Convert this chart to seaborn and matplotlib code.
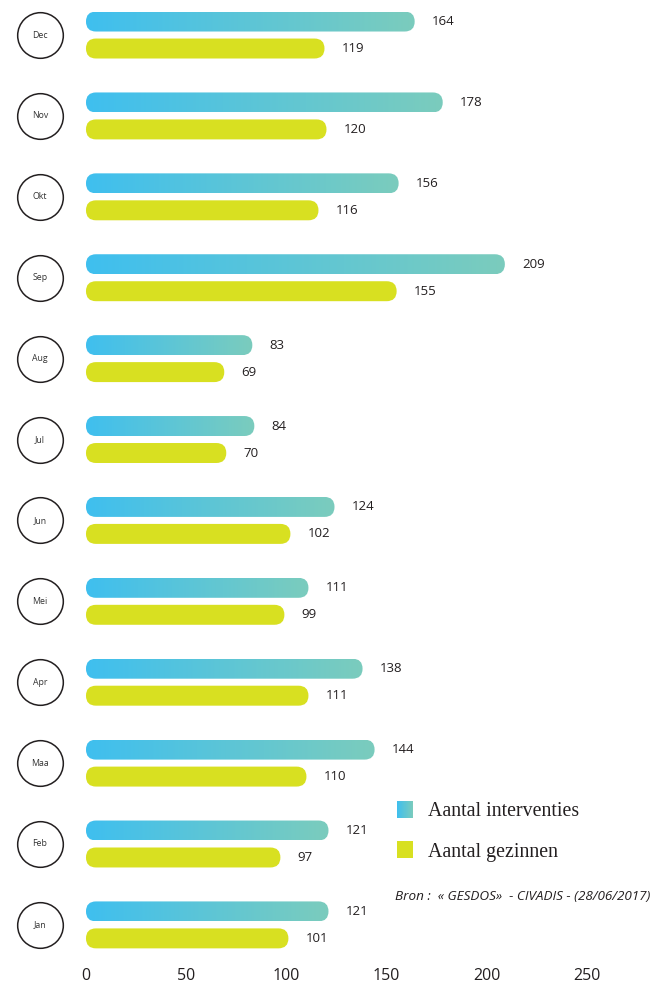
import seaborn as sns
import matplotlib.pyplot as plt
import matplotlib.colors as mcolors
from matplotlib.patches import FancyBboxPatch
import numpy as np
import pandas as pd

# Data (top to bottom)
months = ['Dec', 'Nov', 'Okt', 'Sep', 'Aug', 'Jul', 'Jun', 'Mei', 'Apr', 'Maa', 'Feb', 'Jan']
interventies = [164, 178, 156, 209, 83, 84, 124, 111, 138, 144, 121, 121]
gezinnen = [119, 120, 116, 155, 69, 70, 102, 99, 111, 110, 97, 101]
series = ['Aantal interventies', 'Aantal gezinnen']
x_ticks = [0, 50, 100, 150, 200, 250]

df = pd.DataFrame({
    'maand': months * 2,
    'waarde': interventies + gezinnen,
    'reeks': [series[0]] * len(months) + [series[1]] * len(months),
})

blue_grad = mcolors.LinearSegmentedColormap.from_list('bg', ['#3FBFEF', '#7BCCBD'])
yellow = '#D8E021'

sns.set_style('white')
plt.rcParams['font.family'] = ['Open Sans', 'DejaVu Sans']

fig = plt.figure(figsize=(6.61, 9.92), dpi=100)
ax = fig.add_axes([0, 32 / 992, 1, 960 / 992])

sns.barplot(data=df, x='waarde', y='maand', hue='reeks', order=months, hue_order=series,
            orient='h', width=0.667, gap=0.26, palette=['#3FBFEF', yellow],
            legend=False, ax=ax)

# px per data unit: x 2.004, y 80.9 -> aspect for rounded ends
aspect = 2.004 / 80.9
vals = [interventies, gezinnen]
grad = np.linspace(0, 1, 256).reshape(1, -1)
for k, cont in enumerate(ax.containers):
    for bar, v in zip(cont.patches, vals[k]):
        x0, y0 = bar.get_x(), bar.get_y()
        w, h = bar.get_width(), bar.get_height()
        bar.set_visible(False)
        r = h / 2 / aspect
        patch = FancyBboxPatch((x0, y0), w, h,
                               boxstyle=f'round,pad=0,rounding_size={r}',
                               mutation_aspect=aspect, linewidth=0)
        if k == 0:
            patch.set_facecolor('none')
            ax.add_patch(patch)
            im = ax.imshow(grad, extent=[x0, x0 + w, y0 + h, y0], aspect='auto',
                           cmap=blue_grad, zorder=2, interpolation='bilinear')
            im.set_clip_path(patch)
        else:
            patch.set_facecolor(yellow)
            patch.set_zorder(2)
            ax.add_patch(patch)
        ax.text(x0 + w + 8.5, y0 + h / 2, str(v), va='center', ha='left',
                fontsize=9.5, color='#231f20')

# month circles
for i, m in enumerate(months):
    ax.scatter(-23, i, s=1080, facecolor='white', edgecolor='#231f20',
               linewidth=1.1, zorder=3, clip_on=False)
    ax.text(-23, i, m, ha='center', va='center', fontsize=6.3, color='#333333', zorder=4)

ax.set_xlim(-42.9, 286.9)
ax.set_ylim(11.434, -0.433)
ax.set_xticks(x_ticks)
ax.set_xticklabels([str(t) for t in x_ticks], fontsize=11.5, color='#231f20')
ax.tick_params(axis='x', length=0, pad=6)
ax.set_yticks([])
ax.set_xlabel('')
ax.set_ylabel('')
sns.despine(ax=ax, left=True, bottom=True)

# legend
lax1 = fig.add_axes([397 / 661, (992 - 818) / 992, 16 / 661, 17 / 992])
lax1.imshow(grad, aspect='auto', cmap=blue_grad)
lax1.axis('off')
lax2 = fig.add_axes([397 / 661, (992 - 858) / 992, 16 / 661, 17 / 992])
lax2.set_facecolor(yellow)
lax2.set_xticks([])
lax2.set_yticks([])
for s in lax2.spines.values():
    s.set_visible(False)

fig.text(428 / 661, 1 - 811 / 992, series[0], family=['Liberation Serif'], fontsize=14.3,
         va='center', ha='left', color='#231f20')
fig.text(428 / 661, 1 - 852 / 992, series[1], family=['Liberation Serif'], fontsize=14.3,
         va='center', ha='left', color='#231f20')
fig.text(395 / 661, 1 - 897 / 992, 'Bron :  « GESDOS»  - CIVADIS - (28/06/2017)',
         style='italic', fontsize=9.7, va='center', ha='left', color='#231f20')

plt.savefig('out.png', dpi=100)
